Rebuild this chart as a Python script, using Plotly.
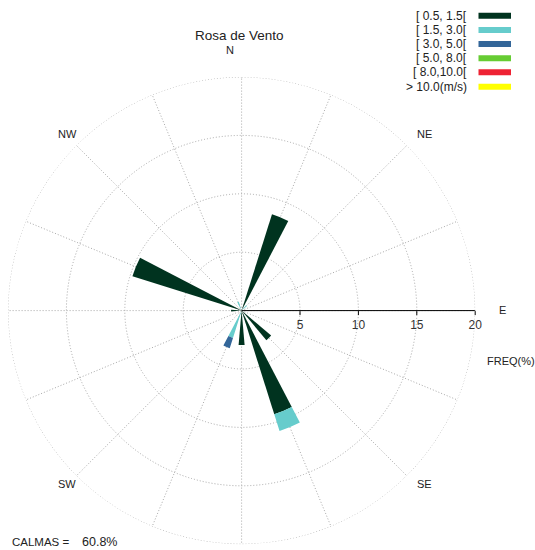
import plotly.graph_objects as go

# Sixteen compass sectors, clockwise from north
directions = ["N", "NNE", "NE", "ENE", "E", "ESE", "SE", "SSE",
              "S", "SSW", "SW", "WSW", "W", "WNW", "NW", "NNW"]
sector_deg = [0, 22.5, 45, 67.5, 90, 112.5, 135, 157.5,
              180, 202.5, 225, 247.5, 270, 292.5, 315, 337.5]

# Wind speed classes and their colours
speed_classes = ["[ 0.5, 1.5[", "[ 1.5, 3.0[", "[ 3.0, 5.0[",
                 "[ 5.0, 8.0[", "[ 8.0,10.0[", "> 10.0(m/s)"]
class_colors = ["#00331f", "#66cccc", "#336699", "#66cc33", "#ee2233", "#ffff00"]

# Frequency (%) per sector for each speed class
freq_05_15 = [0, 8.65, 0, 0, 0, 0, 3.3, 9.3, 2.95, 0.1, 0, 0, 0.9, 9.8, 0, 0.15]
freq_15_30 = [0, 0, 0.6, 0, 0, 0, 0, 1.5, 0, 2.35, 0, 0, 0, 0, 0, 0.65]
freq_30_50 = [0, 0, 0, 0, 0, 0, 0, 0, 0, 0.93, 0, 0, 0, 0, 0, 0]
freq_50_80 = [0, 0, 0, 0, 0, 0, 0, 0, 0, 0, 0, 0, 0, 0, 0, 0]
freq_80_100 = [0, 0, 0, 0, 0, 0, 0, 0, 0, 0, 0, 0, 0, 0, 0, 0]
freq_gt_100 = [0, 0, 0, 0, 0, 0, 0, 0, 0, 0, 0, 0, 0, 0, 0, 0]
class_freqs = [freq_05_15, freq_15_30, freq_30_50, freq_50_80, freq_80_100, freq_gt_100]

calm_pct = 60.8
radial_ticks = [5, 10, 15, 20]

# Compass labels shown around the rose
compass_labels = ["N", "NE", "E", "SE", "SW", "NW"]
compass_pos = [(230, 50), (424, 134), (502, 310), (424, 484), (67, 484), (67, 134)]

W, H = 535, 550
FONT = "Liberation Sans, Arial, sans-serif"
GRID = "#a8a8a8"
DOTS = "1px,2px"

fig = go.Figure()

# Outer dotted ring at the last radial tick
ring_theta = list(range(0, 361))
fig.add_trace(go.Scatterpolar(
    r=[radial_ticks[-1]] * len(ring_theta), theta=ring_theta, mode="lines",
    line=dict(color=GRID, width=1, dash=DOTS),
    showlegend=False, hoverinfo="skip",
))

for name, color, vals in zip(speed_classes, class_colors, class_freqs):
    fig.add_trace(go.Barpolar(
        r=vals, theta=sector_deg, width=10, name=name,
        marker=dict(color=color, line=dict(width=0)),
        showlegend=False, hoverinfo="skip",
    ))

# Polar area geometry in pixels
cx, cy, rad = 241.6, 310.6, 233.6
fig.update_layout(
    width=W, height=H,
    margin=dict(l=0, r=0, t=0, b=0),
    paper_bgcolor="white", plot_bgcolor="white",
    font=dict(family=FONT, size=11, color="#222"),
    polar=dict(
        domain=dict(x=[(cx - rad) / W, (cx + rad) / W],
                    y=[(H - cy - rad) / H, (H - cy + rad) / H]),
        bgcolor="white",
        barmode="stack",
        radialaxis=dict(
            range=[0, 20], tickvals=radial_ticks,
            ticktext=[str(t) for t in radial_ticks],
            angle=0, side="clockwise",
            showline=True, linecolor="black", linewidth=1,
            ticks="outside", ticklen=4, tickcolor="black",
            showgrid=True, gridcolor=GRID, gridwidth=1, griddash=DOTS,
            tickfont=dict(family=FONT, size=12, color="#333"),
            layer="below traces",
        ),
        angularaxis=dict(
            rotation=90, direction="clockwise",
            tickmode="array", tickvals=sector_deg, showticklabels=False,
            ticks="", showline=False,
            showgrid=True, gridcolor=GRID, gridwidth=1, griddash=DOTS,
            layer="below traces",
        ),
    ),
)

ann = []
ann.append(dict(text="Rosa de Vento", x=239.5 / W, y=1 - 36 / H, xref="paper", yref="paper",
                showarrow=False, xanchor="center", yanchor="middle",
                font=dict(family=FONT, size=13.5, color="#222")))
for lab, (px, py) in zip(compass_labels, compass_pos):
    ann.append(dict(text=lab, x=px / W, y=1 - py / H, xref="paper", yref="paper",
                    showarrow=False, xanchor="center", yanchor="middle",
                    font=dict(family=FONT, size=11, color="#222")))
ann.append(dict(text="FREQ(%)", x=511 / W, y=1 - 361 / H, xref="paper", yref="paper",
                showarrow=False, xanchor="center", yanchor="middle",
                font=dict(family=FONT, size=11, color="#222")))
ann.append(dict(text="CALMAS =", x=10 / W, y=1 - 542 / H,
                xref="paper", yref="paper", showarrow=False,
                xanchor="left", yanchor="middle",
                font=dict(family=FONT, size=11.5, color="#222")))
ann.append(dict(text=f"{calm_pct:.1f}%", x=80 / W, y=1 - 542 / H,
                xref="paper", yref="paper", showarrow=False,
                xanchor="left", yanchor="middle",
                font=dict(family=FONT, size=12.5, color="#222")))

# Legend: right-aligned class labels with colour bars to their right
shapes = []
row_y = [15.7, 30, 44, 58.3, 72.3, 86.7]
for name, color, ry in zip(speed_classes, class_colors, row_y):
    ann.append(dict(text=name, x=469 / W, y=1 - ry / H, xref="paper", yref="paper",
                    showarrow=False, xanchor="right", yanchor="middle",
                    font=dict(family=FONT, size=12, color="#222")))
    shapes.append(dict(type="rect", xref="paper", yref="paper",
                       x0=478.5 / W, x1=511 / W,
                       y0=1 - (ry + 3) / H, y1=1 - (ry - 3) / H,
                       fillcolor=color, line=dict(width=0)))

fig.update_layout(annotations=ann, shapes=shapes)
fig.write_html("out.html")
